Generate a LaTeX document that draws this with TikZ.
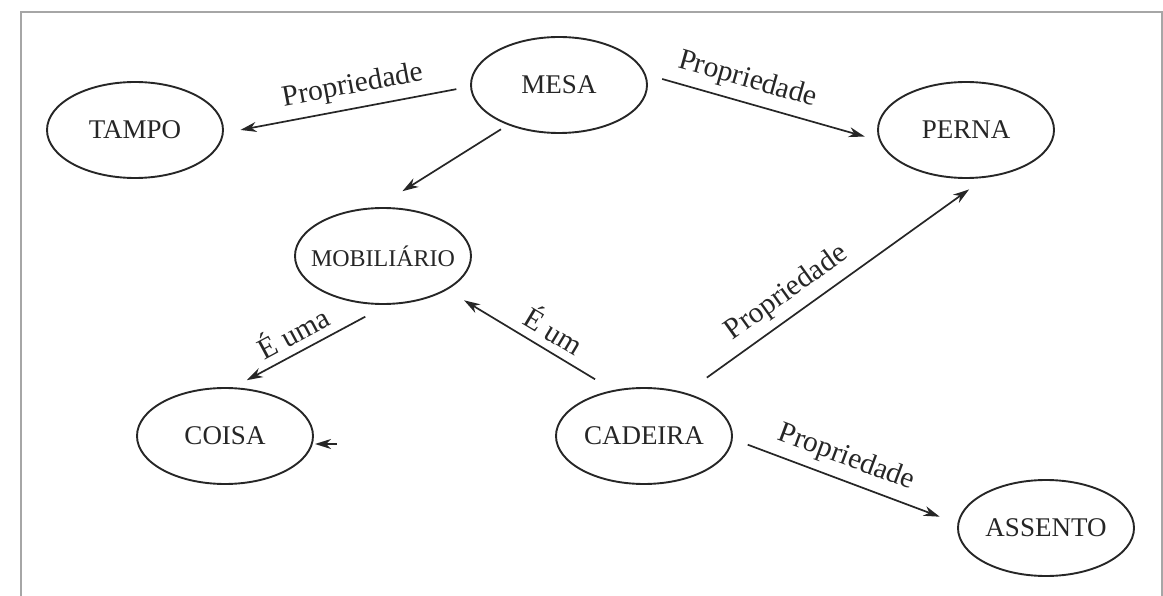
\documentclass[tikz,border=0pt]{standalone}
\usepackage{fontspec}
\setmainfont{Liberation Serif}
\usetikzlibrary{shapes.geometric,arrows.meta}

\begin{document}
\begin{tikzpicture}
	[x=1pt,y=-1pt,
	concept/.style={draw=black!85,ellipse,line width=1.9pt,minimum width=176pt,minimum height=96pt,
		inner sep=0pt,text=black!85,font=\fontsize{27}{32}\selectfont},
	rel/.style={draw=black!85,line width=1.7pt,-{Stealth[length=16pt,width=10pt,inset=5pt]}},
	lbl/.style={sloped,above=6pt,inner sep=2pt,text=black!85,font=\fontsize{29.5}{34}\selectfont}]
	\useasboundingbox (0,0) rectangle (1163,596);
	\draw[black!35,line width=1.5pt] (21,596) -- (21,12) -- (1162,12) -- (1162,596);
	\node[concept] (tampo) at (135,130) {TAMPO};
	\node[concept] (mesa) at (559,85) {MESA};
	\node[concept] (perna) at (966,130) {PERNA};
	\node[concept,inner xsep=-16pt,font=\fontsize{24}{29}\selectfont] (mobiliario) at (383,256) {MOBILIÁRIO};
	\node[concept] (coisa) at (225,436) {COISA};
	\node[concept] (cadeira) at (644,436) {CADEIRA};
	\node[concept] (assento) at (1046,528) {ASSENTO};
	\coordinate (stray) at (337,444);
	\draw[rel,shorten <=14pt,shorten >=17pt] (mesa.181) -- node[lbl,pos=0.46] {Propriedade} (tampo.358);
	\draw[rel,shorten <=17pt,shorten >=15pt] (mesa.7) -- node[lbl,pos=0.41] {Propriedade} (perna.187);
	\draw[rel,shorten <=8pt,shorten >=30pt] (mesa.218) -- (mobiliario.97);
	\draw[rel,shorten <=25pt,shorten >=15pt] (mobiliario.275) -- node[lbl,pos=0.55] {É uma} (coisa.80);
	\draw[rel,shorten <=21pt,shorten >=20pt] (cadeira.124) -- node[lbl,pos=0.42] {É um} (mobiliario.332);
	\draw[rel,shorten <=26pt,shorten >=20pt] (cadeira.46) -- node[lbl,pos=0.38] {Propriedade} (perna.292);
	\draw[rel,shorten <=16pt,shorten >=19pt] (cadeira.358) -- node[lbl,pos=0.47] {Propriedade} (assento.177);
	\draw[rel] (stray) -- ++(-22,0);
\end{tikzpicture}
\end{document}
